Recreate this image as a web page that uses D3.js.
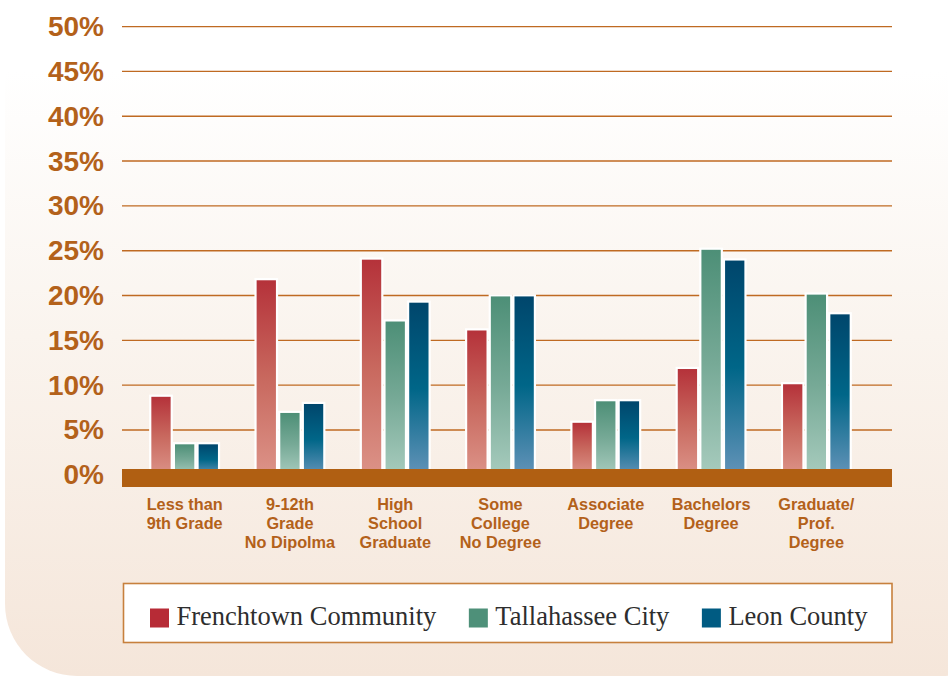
<!DOCTYPE html>
<html>
<head>
<meta charset="utf-8">
<script src="https://d3js.org/d3.v7.min.js"></script>
<style>
  html, body { margin: 0; padding: 0; background: #ffffff; }
  svg { display: block; }
</style>
</head>
<body>
<svg id="chart" width="948" height="677"></svg>
<script>
// ---- data ----
const categories = [
  ["Less than", "9th Grade"],
  ["9-12th", "Grade", "No Dipolma"],
  ["High", "School", "Graduate"],
  ["Some", "College", "No Degree"],
  ["Associate", "Degree"],
  ["Bachelors", "Degree"],
  ["Graduate/", "Prof.", "Degree"]
];
const seriesNames = ["Frenchtown Community", "Tallahassee City", "Leon County"];
const frenchtown = [8.7, 21.7, 24.0, 16.1, 5.8, 11.8, 10.1];
const tallahassee = [3.4, 6.9, 17.1, 19.9, 8.2, 25.1, 20.1];
const leon = [3.4, 7.9, 19.2, 19.9, 8.2, 23.9, 17.9];
const yTicks = [0, 5, 10, 15, 20, 25, 30, 35, 40, 45, 50];

const seriesValues = [frenchtown, tallahassee, leon];

// ---- styles ----
const brown = "#b3611a";
const gradStops = [
  { top: "#b5323a", mid: "#c8685e", bottom: "#dc9388", legend: "#b72b36" },
  { top: "#4d8f77", mid: "#76a996", bottom: "#a7cbbd", legend: "#4e9079" },
  { top: "#00466c", mid: "#006688", bottom: "#6393b8", legend: "#005b82" }
];

const svg = d3.select("#chart");
const defs = svg.append("defs");

// background panel gradient
const bg = defs.append("linearGradient").attr("id", "bg")
  .attr("x1", 0).attr("y1", 0).attr("x2", 0).attr("y2", 1);
bg.append("stop").attr("offset", "0.2").attr("stop-color", "#ffffff");
bg.append("stop").attr("offset", "0.55").attr("stop-color", "#faf4ee");
bg.append("stop").attr("offset", "1").attr("stop-color", "#f5e6da");

gradStops.forEach((g, i) => {
  const lg = defs.append("linearGradient").attr("id", "g" + i)
    .attr("x1", 0).attr("y1", 0).attr("x2", 0).attr("y2", 1);
  lg.append("stop").attr("offset", "0").attr("stop-color", g.top);
  lg.append("stop").attr("offset", "0.5").attr("stop-color", g.mid);
  lg.append("stop").attr("offset", "1").attr("stop-color", g.bottom);
});

// panel
svg.append("rect").attr("x", 5).attr("y", -80).attr("width", 1010).attr("height", 756)
  .attr("rx", 72).attr("ry", 72).attr("fill", "url(#bg)");

// ---- scales ----
const plotLeft = 122, plotRight = 892;
const y = d3.scaleLinear().domain([0, 50]).range([474.8, 26.6]);
const x = d3.scaleBand().domain(d3.range(categories.length)).range([132, 869]).paddingInner(0).paddingOuter(0);
const xs = d3.scaleBand().domain(d3.range(seriesNames.length)).range([-33.3, 33.3]).paddingInner(0.184).paddingOuter(0);

// gridlines
svg.append("g").selectAll("line").data(yTicks.filter(t => t > 0)).join("line")
  .attr("x1", plotLeft).attr("x2", plotRight)
  .attr("y1", d => y(d)).attr("y2", d => y(d))
  .attr("stroke", "#bf6a22").attr("stroke-width", 1.4);

// tick labels
svg.append("g").selectAll("text").data(yTicks).join("text")
  .attr("x", 104).attr("y", d => y(d))
  .attr("text-anchor", "end").attr("dominant-baseline", "central")
  .attr("font-family", "Liberation Sans, Arial, sans-serif").attr("font-weight", "bold")
  .attr("font-size", 28).attr("fill", brown)
  .text(d => d + "%");

// bars
const groups = svg.append("g").selectAll("g").data(categories).join("g")
  .attr("transform", (d, i) => `translate(${x(i) + x.bandwidth() / 2},0)`);

groups.each(function (c, ci) {
  const g = d3.select(this);
  seriesValues.forEach((vals, si) => {
    const v = vals[ci];
    const bx = xs(si), bw = xs.bandwidth();
    // white halo
    g.append("rect").attr("x", bx - 2.2).attr("y", y(v) - 2.2)
      .attr("width", bw + 4.4).attr("height", y(0) - y(v) + 2.2).attr("fill", "#ffffff");
    g.append("rect").attr("x", bx).attr("y", y(v))
      .attr("width", bw).attr("height", y(0) - y(v))
      .attr("fill", `url(#g${si})`);
  });
});

// base band
svg.append("rect").attr("x", plotLeft).attr("y", 469).attr("width", plotRight - plotLeft).attr("height", 18)
  .attr("fill", "#b05f12");

// category labels
const catG = svg.append("g").selectAll("text").data(categories).join("text")
  .attr("x", (d, i) => x(i) + x.bandwidth() / 2)
  .attr("y", 510)
  .attr("text-anchor", "middle")
  .attr("font-family", "Liberation Sans, Arial, sans-serif").attr("font-weight", "bold")
  .attr("font-size", 16.3).attr("fill", brown);
catG.each(function (lines, i) {
  const t = d3.select(this);
  lines.forEach((ln, li) => {
    t.append("tspan").attr("x", x(i) + x.bandwidth() / 2).attr("y", 510 + li * 19).text(ln);
  });
});

// legend
svg.append("rect").attr("x", 123.5).attr("y", 583.5).attr("width", 768.5).attr("height", 59)
  .attr("fill", "#ffffff").attr("stroke", "#c7803d").attr("stroke-width", 1.6);

let lx = 150;
seriesNames.forEach((name, i) => {
  svg.append("rect").attr("x", lx).attr("y", 608.5).attr("width", 19).attr("height", 19)
    .attr("fill", gradStops[i].legend);
  const t = svg.append("text").attr("x", lx + 26.5).attr("y", 624.5)
    .attr("font-family", "Liberation Serif, Times New Roman, serif")
    .attr("font-size", 26.5).attr("fill", "#2e2e2e").text(name);
  lx = lx + 26.5 + t.node().getComputedTextLength() + 32.5;
});
</script>
</body>
</html>
